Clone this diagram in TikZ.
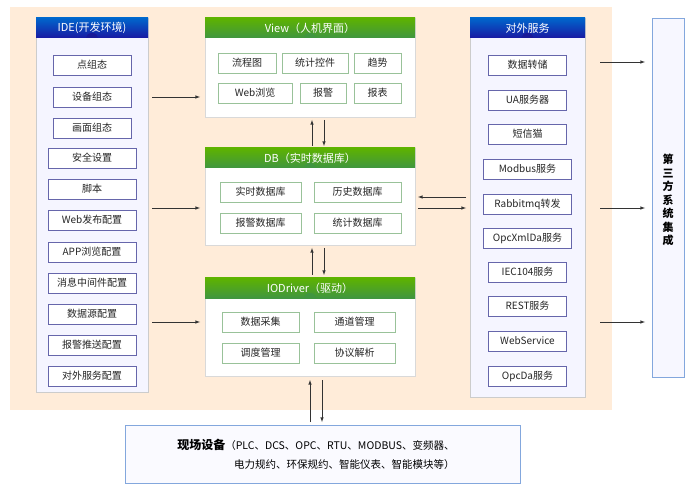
\documentclass[tikz,border=0pt]{standalone}
\usepackage{fontspec}
\setmainfont{Noto Sans CJK SC}
\begin{document}
\begin{tikzpicture}[x=1pt,y=-1pt,
  item/.style={draw=#1,fill=white,line width=0.7pt,minimum height=20pt,inner sep=1pt,font=\fontsize{10}{11}\selectfont,text=black!85},
  bitem/.style={item=blue!45!black!60},
  gitem/.style={item=green!40!black!40},
  arr/.style={-latex,line width=0.6pt,black!80},
  head/.style={text=white,font=\fontsize{11}{13}\selectfont}]
\useasboundingbox (0,0) rectangle (697,500);
\fill[orange!15!white] (10,7) rectangle (612,410);
% IDE panel
\fill[blue!4] (36,18) rectangle (148,392);
\draw[black!20] (36,18) rectangle (148,392);
\shade[top color=cyan!50!blue!80!black,bottom color=blue!60!black!90] (36,18) rectangle (148,38);
\fill[blue!55!black!90] (86,38) arc (180:360:6 and 5);
\node[head] (ideh) at (92,28) {IDE(开发环境)};
\foreach \t/\y/\w [count=\i] in {点组态/65/78,设备组态/97/78,画面组态/128/78,安全设置/158/88,脚本/189/88,Web发布配置/220/88,APP浏览配置/252/88,消息中间件配置/283/88,数据源配置/314/88,报警推送配置/345/88,对外服务配置/376/88}
  \node[bitem,minimum width=\w pt] (ide\i) at (92,\y) {\t};
% center panels
\foreach \n/\ya/\yb/\t in {view/18/117/{View（人机界面）},db/148/245/{DB（实时数据库）},io/278/376/{IODriver（驱动）}}{
  \fill[white] (205,\ya) rectangle (415,\yb);
  \draw[black!15] (205,\ya) rectangle (415,\yb);
  \shade[top color=lime!70!green!70!black,bottom color=green!45!black!75] (205,\ya) rectangle (415,\ya+20);
  \fill[green!45!black!75] (304,\ya+20) arc (180:360:6 and 5);
  \node[head] (\n h) at (310,\ya+10) {\t};
}
\node[gitem,minimum width=58pt] (v1) at (247,63) {流程图};
\node[gitem,minimum width=66pt] (v2) at (315,63) {统计控件};
\node[gitem,minimum width=47pt] (v3) at (377.5,63) {趋势};
\node[gitem,minimum width=74pt] (v4) at (255,93) {Web浏览};
\node[gitem,minimum width=46pt] (v5) at (323,93) {报警};
\node[gitem,minimum width=47pt] (v6) at (377.5,93) {报表};
\node[gitem,minimum width=81pt] (d1) at (260.5,192) {实时数据库};
\node[gitem,minimum width=87pt] (d2) at (357.5,192) {历史数据库};
\node[gitem,minimum width=81pt] (d3) at (260.5,223) {报警数据库};
\node[gitem,minimum width=87pt] (d4) at (357.5,223) {统计数据库};
\node[gitem,minimum width=77pt] (i1) at (260.5,322) {数据采集};
\node[gitem,minimum width=81pt] (i2) at (354.5,322) {通道管理};
\node[gitem,minimum width=77pt] (i3) at (260.5,353) {调度管理};
\node[gitem,minimum width=81pt] (i4) at (354.5,353) {协议解析};
% external services
\fill[blue!4] (470,18) rectangle (585,397);
\draw[black!20] (470,18) rectangle (585,397);
\shade[top color=cyan!50!blue!80!black,bottom color=blue!60!black!90] (470,18) rectangle (585,38);
\fill[blue!55!black!90] (521.5,38) arc (180:360:6 and 5);
\node[head] (exth) at (527.5,28) {对外服务};
\foreach \t/\y/\w [count=\i] in {数据转储/65/78,UA服务器/100/78,短信猫/134/78,Modbus服务/169/88,Rabbitmq转发/204/88,OpcXmlDa服务/238/88,IEC104服务/272/78,REST服务/306/78,WebService/341/78,OpcDa服务/376/78}
  \node[bitem,minimum width=\w pt] (ext\i) at (527.5,\y) {\t};
% third party
\node[draw=cyan!50!blue!50,line width=0.7pt,fill=blue!3,minimum width=32pt,minimum height=359pt,inner sep=0pt] (third) at (668,197.5) {};
\node[align=center,font=\bfseries\fontsize{11}{13.5}\selectfont] (thirdt) at (668,200) {第\\三\\方\\系\\统\\集\\成};
% bottom
\node[draw=cyan!50!blue!50,line width=0.7pt,fill=blue!2,minimum width=395pt,minimum height=58pt] (field) at (322.5,454) {};
\node[align=right,font=\fontsize{10.5}{19}\selectfont] (fieldt) at (316,454) {{\bfseries\fontsize{12}{19}\selectfont 现场设备}（PLC、DCS、OPC、RTU、MODBUS、变频器、\\电力规约、环保规约、智能仪表、智能模块等）};
% arrows
\coordinate (a1) at (152,97); \coordinate (b1) at (200,97);
\coordinate (a2) at (152,208); \coordinate (b2) at (200,208);
\coordinate (a3) at (152,322); \coordinate (b3) at (200,322);
\draw[arr] (a1) -- (b1); \draw[arr] (a2) -- (b2); \draw[arr] (a3) -- (b3);
\coordinate (c1) at (466,197); \coordinate (c2) at (418,197);
\coordinate (c3) at (418,208); \coordinate (c4) at (466,208);
\draw[arr] (c1) -- (c2); \draw[arr] (c3) -- (c4);
\coordinate (e1) at (312,146); \coordinate (e2) at (312,120);
\draw[arr] (e1) -- (e2); \draw[arr] (324,120) coordinate (e3) -- (324,146) coordinate (e4);
\draw[arr] (312,275) coordinate (f1) -- (312,248) coordinate (f2);
\draw[arr] (324,248) coordinate (f3) -- (324,275) coordinate (f4);
\draw[arr] (310,422) coordinate (g1) -- (310,380) coordinate (g2);
\draw[arr] (322,380) coordinate (g3) -- (322,422) coordinate (g4);
\foreach \y in {62,208,322}{\draw[arr] (600,\y) coordinate (h\y) -- (645,\y) coordinate (k\y);}
\end{tikzpicture}
\end{document}
